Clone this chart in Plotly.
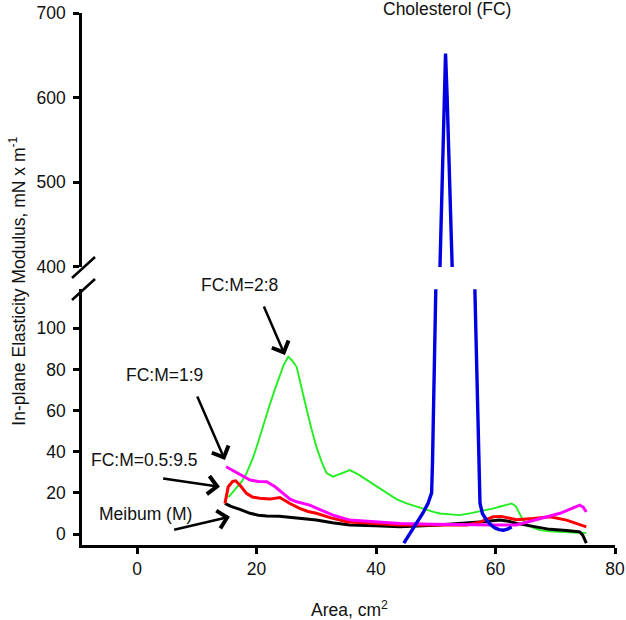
import plotly.graph_objects as go

# ---- data ----
meibum_x = [14.7, 15.7, 17.2, 18.9, 20.3, 21.7, 23.8, 25.3, 27.2, 30.0, 32.7, 35.6, 39.8, 44.0, 49.8, 55.2, 57.9, 60.7, 62.2, 63.5, 66.3, 69.1, 71.9, 74.1, 74.6, 75.2]
meibum_y = [14.9, 13.5, 12.0, 10.1, 9.2, 8.8, 8.7, 8.2, 7.7, 6.8, 5.5, 4.4, 4.0, 3.6, 4.3, 5.2, 6.0, 6.8, 6.2, 5.2, 3.6, 2.3, 1.8, 1.1, -0.5, -4.4]

fc05_x = [14.7, 15.25, 16.0, 16.5, 17.3, 18.3, 19.3, 20.5, 22.2, 23.9, 25.5, 27.2, 28.6, 30.0, 32.3, 35.1, 37.8, 40.0, 44.0, 49.5, 55.2, 57.4, 59.6, 60.9, 63.5, 66.3, 69.1, 71.9, 75.2]
fc05_y = [14.9, 23.0, 25.6, 25.9, 23.5, 19.8, 18.0, 17.4, 17.0, 17.8, 15.0, 12.5, 11.0, 10.1, 8.0, 6.0, 5.5, 5.0, 4.4, 4.4, 4.4, 5.8, 8.4, 8.6, 7.0, 7.6, 8.4, 6.8, 3.5]

fc1_x = [14.9, 16.8, 18.9, 20.3, 21.7, 23.1, 24.5, 25.6, 26.7, 27.8, 28.9, 30.8, 32.8, 35.6, 37.8, 40.0, 44.0, 49.5, 55.2, 60.0, 63.5, 64.9, 66.3, 68.5, 70.8, 72.4, 74.1, 74.7, 75.2]
fc1_y = [32.7, 29.5, 26.3, 25.6, 25.4, 23.0, 19.8, 17.0, 15.7, 15.0, 14.1, 11.6, 9.2, 6.8, 6.3, 5.8, 5.2, 4.8, 4.4, 4.4, 4.4, 5.5, 6.8, 8.5, 10.1, 12.0, 14.1, 13.0, 10.8]

fc2_x = [15.3, 16.3, 17.5, 18.3, 19.4, 20.3, 21.1, 22.0, 22.9, 23.7, 24.5, 25.3, 25.9, 26.7, 27.5, 28.4, 29.2, 30.0, 30.9, 31.7, 32.8, 34.2, 35.6, 37.0, 38.4, 40.1, 41.8, 43.4, 45.1, 47.3, 49.6, 50.7, 52.5, 54.0, 55.9, 57.9, 59.5, 60.7, 62.0, 62.7, 63.4, 64.0, 64.6, 65.5, 67.4, 69.1, 71.9, 73.8, 75.2]
fc2_y = [18.0, 21.5, 25.5, 29.5, 37.0, 45.0, 53.0, 61.0, 69.0, 76.0, 82.0, 86.2, 84.5, 81.3, 71.0, 60.3, 51.0, 42.5, 35.0, 29.7, 27.9, 29.5, 31.1, 29.0, 26.3, 23.0, 19.8, 17.0, 14.9, 12.8, 10.8, 10.0, 9.6, 9.2, 10.2, 11.3, 12.4, 13.3, 14.3, 14.9, 13.5, 10.2, 6.8, 4.0, 1.9, 1.3, 0.7, 0.6, 0.6]

chol_low_x = [44.65, 45.7, 46.8, 47.8, 48.7, 49.3, 49.45, 49.6, 49.75, 49.9, 50.0, None,
              56.54, 56.7, 56.85, 57.0, 57.2, 57.4, 57.8, 58.5, 59.2, 59.9, 60.6, 61.3, 62.0, 62.7]
chol_low_y = [-4.4, 0.5, 5.3, 10.0, 15.0, 20.0, 35.0, 55.0, 75.0, 100.0, 119.0, None,
              119.0, 100.0, 80.0, 60.0, 35.0, 15.0, 10.0, 6.8, 4.5, 3.0, 2.2, 1.9, 2.4, 3.5]
chol_up_x = [50.7, 51.0, 51.35, 51.63, 51.9, 52.3, 52.74]
chol_up_y = [400, 490, 600, 652, 600, 490, 400]

x_ticks = [0, 20, 40, 60, 80]
y_low_ticks = [0, 20, 40, 60, 80, 100]
y_up_ticks = [400, 500, 600, 700]

FONT = "Liberation Sans, Arial, sans-serif"
FS = 17.5
fig = go.Figure()

def line(x, y, color, width, yaxis="y"):
    fig.add_trace(go.Scatter(x=x, y=y, mode="lines", yaxis=yaxis,
                             line=dict(color=color, width=width),
                             showlegend=False, hoverinfo="skip"))

line(fc2_x, fc2_y, "#22ee22", 1.9)
line(meibum_x, meibum_y, "#000000", 3)
line(fc05_x, fc05_y, "#ff0000", 3)
line(fc1_x, fc1_y, "#ff00ff", 3)
line(chol_low_x, chol_low_y, "#0000e0", 3.4)
line(chol_up_x, chol_up_y, "#0000e0", 3.4, yaxis="y2")

axis_common = dict(showgrid=False, zeroline=False, showline=True, linecolor="black",
                   linewidth=2.5, ticks="outside", tickcolor="black", tickwidth=2.5,
                   ticklen=6, automargin=False,
                   tickfont=dict(family=FONT, size=FS, color="#111"))

fig.update_layout(
    width=626, height=620,
    margin=dict(l=82, r=11, t=13, b=75),
    paper_bgcolor="white", plot_bgcolor="white",
    xaxis=dict(range=[-9.23, 80.0], tickvals=x_ticks, anchor="y", **axis_common),
    yaxis=dict(range=[-5.3, 119.1], domain=[0, 0.4812], tickvals=y_low_ticks,
               anchor="x", ticklabelstandoff=4, **axis_common),
    yaxis2=dict(range=[400, 700], domain=[0.5226, 1.0], tickvals=y_up_ticks,
                anchor="x", ticklabelstandoff=4, **axis_common),
)

# axis break slashes
for y0, y1 in [(0.5019, 0.5414), (0.4605, 0.5000)]:
    fig.add_shape(type="line", xref="paper", yref="paper", x0=-0.0188, y0=y0,
                  x1=0.0244, y1=y1, line=dict(color="black", width=2.5))

def text(s, x, y, **kw):
    fig.add_annotation(text=s, xref="paper", yref="paper", x=x, y=y, showarrow=False,
                       xanchor="center", yanchor="middle",
                       font=dict(family=FONT, size=FS, color="#111"), **kw)

text("Cholesterol (FC)", 0.684, 1.0075)
text("FC:M=2:8", 0.2946, 0.4887)
text("FC:M=1:9", 0.155, 0.3195)
text("FC:M=0.5:9.5", 0.1173, 0.1598)
text("Meibum (M)", 0.1186, 0.0588)
text("Area, cm<sup>2</sup>", 0.501, -0.120)
text("In-plane Elasticity Modulus, mN x m<sup>-1</sup>", -0.121, 0.496, textangle=-90)

def arrow(x, y, ax, ay):
    fig.add_annotation(x=x, y=y, xref="x", yref="y", ax=ax, ay=ay, axref="pixel", ayref="pixel",
                       text="", showarrow=True, arrowhead=4, arrowsize=1.4,
                       arrowwidth=2.5, arrowcolor="black", standoff=0)

arrow(24.74, 87.0, -21.7, -50)
arrow(14.7, 36.0, -28.3, -65)
arrow(13.86, 23.0, -58.3, -8.4)
arrow(15.53, 8.4, -57.3, 13.3)

fig.write_html("out.html", config={"displayModeBar": False},
               post_script="document.body.style.margin='0';document.body.style.overflow='hidden';")
